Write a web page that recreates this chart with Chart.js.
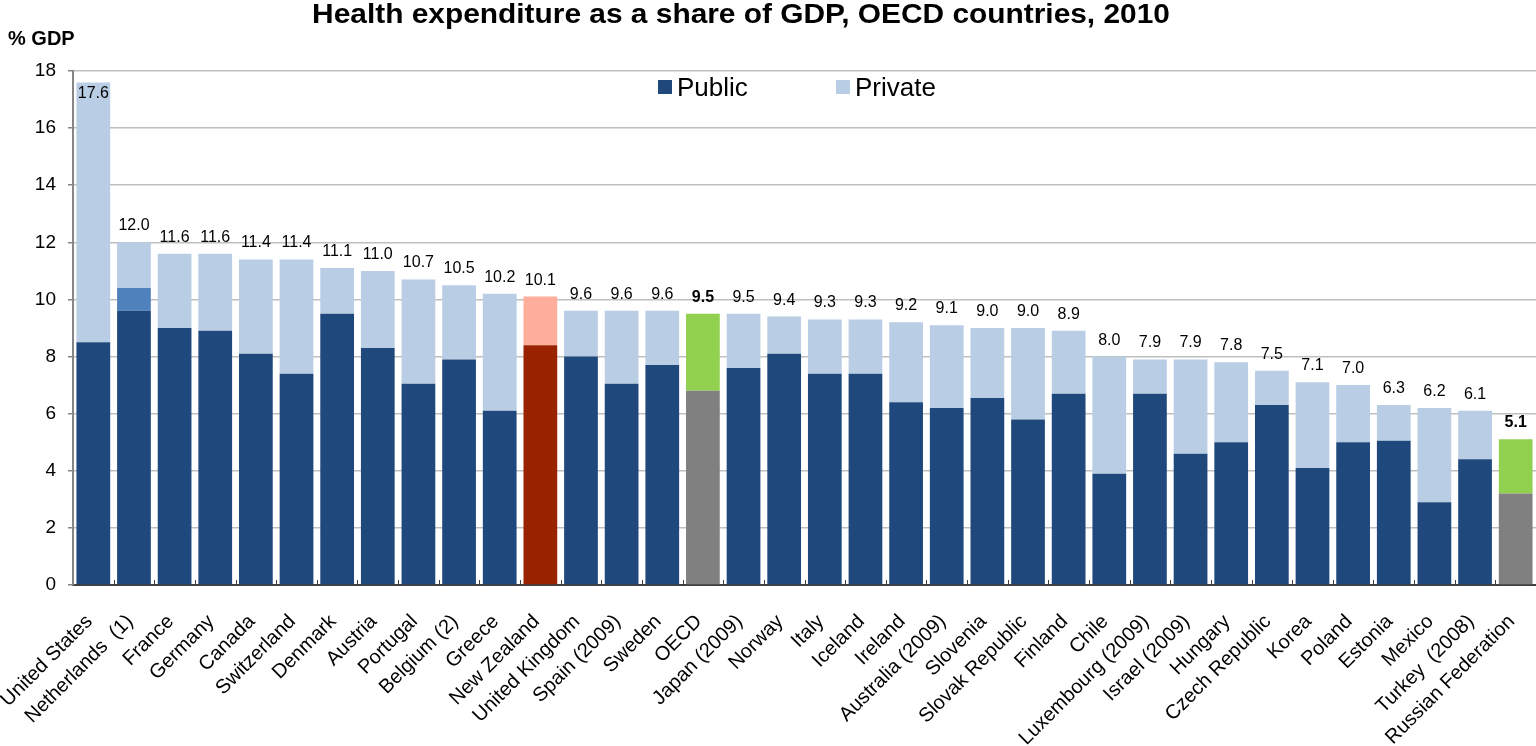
<!DOCTYPE html>
<html>
<head>
<meta charset="utf-8">
<title>Health expenditure as a share of GDP, OECD countries, 2010</title>
<script src="https://cdn.jsdelivr.net/npm/chart.js@4.4.1/dist/chart.umd.min.js"></script>
<style>
  html, body { margin: 0; padding: 0; background: #fff; }
  #wrap { position: relative; width: 1536px; height: 746px; }
</style>
</head>
<body>
<div id="wrap"><canvas id="healthChart"></canvas></div>
<script>
const countries = [
    'United States', 'Netherlands  (1)', 'France', 'Germany', 'Canada', 'Switzerland',
    'Denmark', 'Austria', 'Portugal', 'Belgium (2)', 'Greece', 'New Zealand',
    'United Kingdom', 'Spain (2009)', 'Sweden', 'OECD', 'Japan (2009)', 'Norway',
    'Italy', 'Iceland', 'Ireland', 'Australia (2009)', 'Slovenia', 'Slovak Republic',
    'Finland', 'Chile', 'Luxembourg (2009)', 'Israel (2009)', 'Hungary', 'Czech Republic',
    'Korea', 'Poland', 'Estonia', 'Mexico', 'Turkey  (2008)', 'Russian Federation'
];

// total health spending, % of GDP (value labels)
const totals = [
    17.6, 12.0, 11.6, 11.6, 11.4, 11.4, 11.1, 11.0, 10.7, 10.5, 10.2, 10.1,
    9.6, 9.6, 9.6, 9.5, 9.5, 9.4, 9.3, 9.3, 9.2, 9.1, 9.0, 9.0,
    8.9, 8.0, 7.9, 7.9, 7.8, 7.5, 7.1, 7.0, 6.3, 6.2, 6.1, 5.1
];

// public part
const publicShare = [
    8.5, 9.6, 9.0, 8.9, 8.1, 7.4, 9.5, 8.3, 7.05, 7.9, 6.1, 8.4,
    8.0, 7.05, 7.7, 6.8, 7.6, 8.1, 7.4, 7.4, 6.4, 6.2, 6.55, 5.8,
    6.7, 3.9, 6.7, 4.6, 5.0, 6.3, 4.1, 5.0, 5.05, 2.9, 4.4, 3.2
];

// Netherlands: spending not split between public and private
const notSplit = [
    0, 0.8, 0, 0, 0, 0, 0, 0, 0, 0, 0, 0,
    0, 0, 0, 0, 0, 0, 0, 0, 0, 0, 0, 0,
    0, 0, 0, 0, 0, 0, 0, 0, 0, 0, 0, 0
];

const yTickValues = [0, 2, 4, 6, 8, 10, 12, 14, 16, 18];

const highlightRow = 'New Zealand';
const averageRows = ['OECD', 'Russian Federation'];

const privateShare = totals.map((t, i) => +(t - publicShare[i] - notSplit[i]).toFixed(2));

const FONT = "'Liberation Sans', Arial, Helvetica, sans-serif";
Chart.defaults.font.family = FONT;
Chart.defaults.color = '#000';

function pick(name, normal, highlight, average) {
    if (name === highlightRow) return highlight;
    if (averageRows.includes(name)) return average;
    return normal;
}

const publicColors = countries.map(c => pick(c, '#1F497D', '#992200', '#808080'));
const privateColors = countries.map(c => pick(c, '#B9CDE5', '#FFAE9C', '#92D050'));

const decorations = {
    id: 'decorations',
    afterDatasetsDraw(chart) {
        const { ctx, chartArea, scales: { x, y } } = chart;
        ctx.save();

        // small inside ticks between the bars
        ctx.strokeStyle = '#404040';
        ctx.lineWidth = 1;
        for (let i = 1; i < countries.length; i++) {
            const bx = Math.round((x.getPixelForValue(i - 1) + x.getPixelForValue(i)) / 2) + 0.5;
            ctx.beginPath();
            ctx.moveTo(bx, chartArea.bottom);
            ctx.lineTo(bx, chartArea.bottom - 5);
            ctx.stroke();
        }

        // value labels
        ctx.fillStyle = '#000';
        ctx.textAlign = 'center';
        ctx.textBaseline = 'alphabetic';
        totals.forEach((v, i) => {
            const px = x.getPixelForValue(i);
            const top = y.getPixelForValue(v);
            const bold = averageRows.includes(countries[i]);
            ctx.font = (bold ? 'bold ' : '') + '16px ' + FONT;
            const py = top - 30 < chartArea.top ? top + 16 : top - 12;
            ctx.fillText(v.toFixed(1), px, py);
        });
        ctx.restore();
    },
    afterDraw(chart) {
        const { ctx } = chart;
        ctx.save();
        ctx.fillStyle = '#000';
        ctx.textBaseline = 'alphabetic';

        // title
        ctx.font = 'bold 28px ' + FONT;
        ctx.textAlign = 'center';
        ctx.translate(741, 23);
        ctx.scale(1.067, 1);
        ctx.fillText('Health expenditure as a share of GDP, OECD countries, 2010', 0, 0);
        ctx.setTransform(1, 0, 0, 1, 0, 0);

        // unit label
        ctx.font = 'bold 20px ' + FONT;
        ctx.textAlign = 'left';
        ctx.fillText('% GDP', 8, 45);

        // legend
        ctx.font = '26px ' + FONT;
        const items = [
            { text: chart.data.datasets[0].label, color: '#1F497D', x: 658 },
            { text: chart.data.datasets[2].label, color: '#B9CDE5', x: 836 }
        ];
        items.forEach(it => {
            ctx.fillStyle = it.color;
            ctx.fillRect(it.x, 80, 14, 14);
            ctx.fillStyle = '#000';
            ctx.fillText(it.text, it.x + 19, 96);
        });
        ctx.restore();
    }
};

new Chart(document.getElementById('healthChart'), {
    type: 'bar',
    data: {
        labels: countries,
        datasets: [
            { label: 'Public', data: publicShare, backgroundColor: publicColors },
            { label: 'Not split', data: notSplit, backgroundColor: '#4F81BD' },
            { label: 'Private', data: privateShare, backgroundColor: privateColors }
        ]
    },
    options: {
        responsive: true,
        maintainAspectRatio: false,
        animation: false,
        barPercentage: 0.83,
        categoryPercentage: 1.0,
        layout: { padding: { top: 71, left: 0, right: 0, bottom: 0 } },
        plugins: {
            legend: { display: false },
            tooltip: { enabled: false },
            title: { display: false }
        },
        scales: {
            x: {
                stacked: true,
                afterFit: (s) => { s.height = 161; s.paddingLeft = 0; s.paddingRight = 0; },
                ticks: {
                    font: { size: 20 },
                    color: '#000',
                    minRotation: 45,
                    maxRotation: 45,
                    autoSkip: false,
                    padding: 17,
                    labelOffset: -4
                },
                grid: { display: false },
                border: { display: true, color: '#404040', width: 2 }
            },
            y: {
                stacked: true,
                min: 0,
                max: 18,
                afterBuildTicks: (s) => { s.ticks = yTickValues.map(v => ({ value: v })); },
                afterFit: (s) => { s.width = 73; },
                ticks: { font: { size: 19 }, color: '#000', padding: 12 },
                grid: { color: '#BFBFBF', lineWidth: 1.5, tickLength: 5, tickColor: '#868686' },
                border: { color: '#868686', width: 2 }
            }
        }
    },
    plugins: [decorations]
});
</script>
</body>
</html>
